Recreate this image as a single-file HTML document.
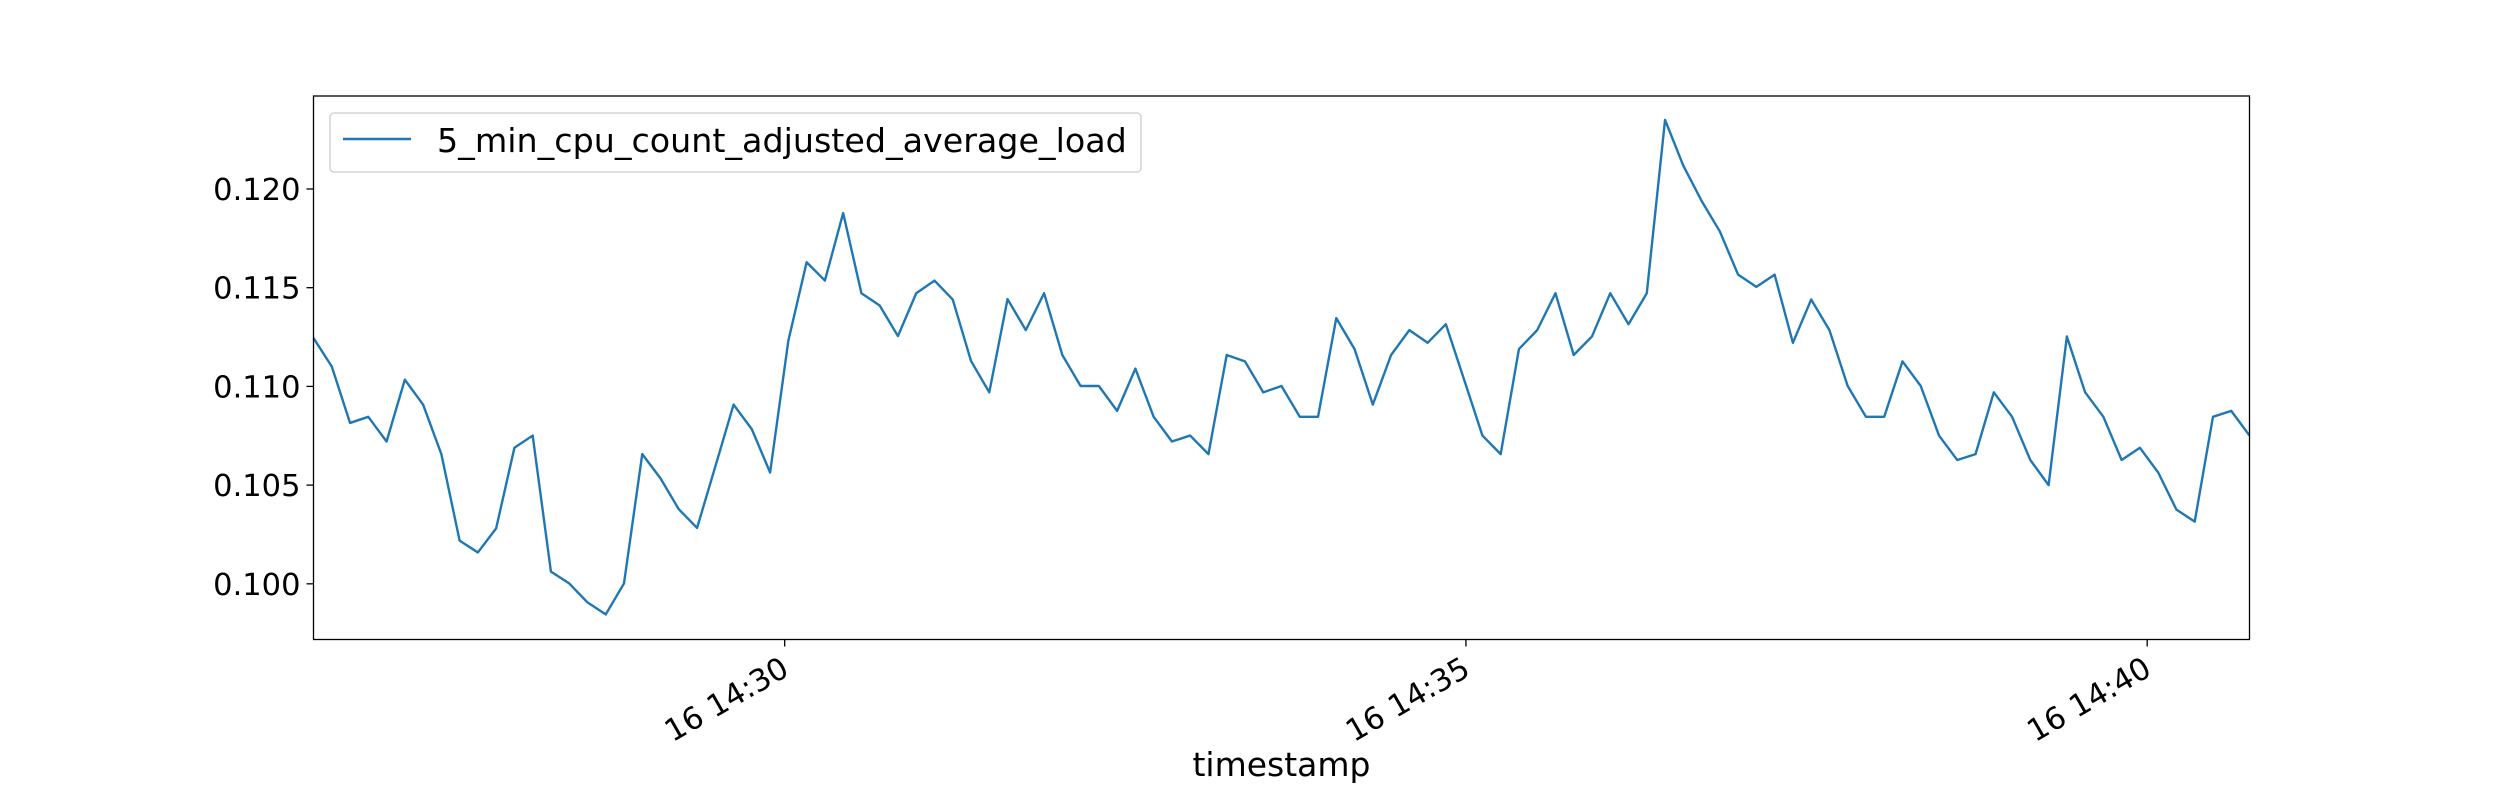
<!DOCTYPE html>
<html><head><meta charset="utf-8"><style>
html,body{margin:0;padding:0;background:#fff;}
svg text{font-family:"DejaVu Sans","Liberation Sans",sans-serif;fill:#000;}
</style></head><body>
<svg id="chart" width="2500" height="800" viewBox="0 0 2500 800" xmlns="http://www.w3.org/2000/svg">
<rect x="0" y="0" width="2500" height="800" fill="#fff"/>
<g id="plot"></g>
</svg>
<script>
const values = [0.11245,0.11101,0.10815,0.10846,0.10721,0.11034,0.10908,0.10657,0.10219,0.10159,0.10281,0.10689,0.10751,0.10062,0.10002,0.09906,0.09845,0.10002,0.10657,0.10534,0.10378,0.10283,0.10594,0.10908,0.10783,0.10564,0.11232,0.11629,0.11536,0.11878,0.11472,0.11410,0.11255,0.11472,0.11536,0.11440,0.11129,0.10970,
0.11442,0.11285,0.11472,0.11159,0.11002,0.11002,0.10876,0.11090,0.10846,0.10721,0.10751,0.10657,0.11159,0.11127,0.10970,0.11002,0.10846,0.10846,0.11346,0.11189,0.10908,0.11159,0.11285,0.11221,0.11315,0.11034,0.10751,0.10657,0.11189,0.11285,0.11472,0.11159,0.11253,0.11472,0.11315,0.11472,
0.12350,0.12118,0.11940,0.11785,0.11566,0.11504,0.11566,0.11221,0.11440,0.11285,0.11002,0.10846,0.10846,0.11127,0.11002,0.10751,0.10627,0.10657,0.10970,0.10846,0.10627,0.10500,0.11253,0.10970,0.10846,0.10627,0.10689,0.10564,0.10376,0.10315,0.10846,0.10876,0.10751];
const startSec = 14*3600 + 26*60 + 32.5;
const stepSec = 8.043;
const yTicks = [0.100,0.105,0.110,0.115,0.120];
const yTickLabels = ["0.100","0.105","0.110","0.115","0.120"];
const xTickSecs = [14*3600+30*60, 14*3600+35*60, 14*3600+40*60];
const xTickLabels = ["16 14:30","16 14:35","16 14:40"];
const legendLabel = "5_min_cpu_count_adjusted_average_load";

const L=313.5,R=2249.5,T=96,B=639.5;
const times = values.map((v,i)=>startSec+i*stepSec);
const tMin=times[0], tMax=times[times.length-1];
const yMin=0.09718, yMax=0.12471;
const xs=t=>L+(t-tMin)/(tMax-tMin)*(R-L);
const ys=v=>B-(v-yMin)/(yMax-yMin)*(B-T);
const NS="http://www.w3.org/2000/svg";
const g=document.getElementById('plot');
function mk(tag,attrs,parent){const e=document.createElementNS(NS,tag);for(const k in attrs)e.setAttribute(k,attrs[k]);(parent||g).appendChild(e);return e;}

const line=mk('polyline',{points:values.map((v,i)=>xs(times[i]).toFixed(2)+','+ys(v).toFixed(2)).join(' '),fill:'none',stroke:'#1f77b4','stroke-width':2.4,'stroke-linejoin':'round'});



const frame=mk('rect',{x:L,y:T,width:R-L,height:B-T,fill:'none',stroke:'#000','stroke-width':1.3});



yTicks.forEach((v,i)=>{
  const y=ys(v);
  const tk=mk('line',{x1:L-7,x2:L,y1:y,y2:y,stroke:'#000','stroke-width':1.3});
  
  
  const tx=mk('text',{x:L-13,y:y+11,'text-anchor':'end','font-size':30.5});
  tx.textContent=yTickLabels[i];
  
  
});

xTickSecs.forEach((s,i)=>{
  const x=xs(s);
  const tk=mk('line',{x1:x,x2:x,y1:B,y2:B+7,stroke:'#000','stroke-width':1.3});
  
  
  const tx=mk('text',{transform:`translate(${x-6},${B+14}) rotate(-30)`,x:0,y:24,'text-anchor':'end','font-size':30.5});
  tx.textContent=xTickLabels[i];
  
  
});

const xt=mk('text',{x:(L+R)/2,y:776,'text-anchor':'middle','font-size':33});
xt.textContent='timestamp';



const lg=mk('g',{});


mk('rect',{x:330,y:113,width:811,height:59,rx:4,fill:'#fff','fill-opacity':0.8,stroke:'#cccccc','stroke-width':1.3},lg);
const ll=mk('line',{x1:343,x2:411,y1:139,y2:139,stroke:'#1f77b4','stroke-width':2.4},lg);


const lt=mk('text',{x:437,y:152,'font-size':33.3},lg);
lt.textContent=legendLabel;


</script>
</body></html>
